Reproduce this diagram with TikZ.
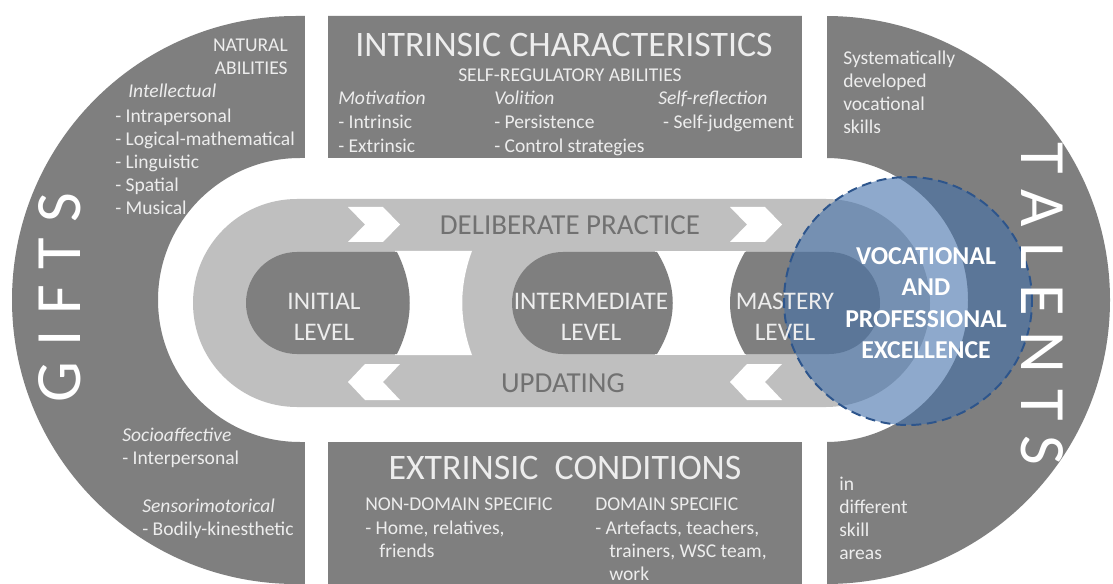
\documentclass[tikz,border=0pt]{standalone}
\usepackage{fontspec}
\setmainfont{Carlito}

\definecolor{panelgray}{HTML}{7F7F7F}
\definecolor{trackgray}{HTML}{BFBFBF}
\definecolor{labelgray}{HTML}{717171}
\definecolor{paneltext}{HTML}{EDEDED}
\definecolor{excelblue}{RGB}{68,113,170}
\definecolor{excelline}{RGB}{45,85,140}

\newcommand{\lettergap}{\hspace{11pt}}

\begin{document}
\begin{tikzpicture}[
    x=0.025cm, y=0.025cm,
    panel/.style={fill=panelgray},
    small/.style={text=paneltext, font=\fontsize{13.9}{16.3}\selectfont, inner sep=0pt, align=left},
    column/.style={small, anchor=north west, font=\fontsize{13.9}{17}\selectfont},
    heading/.style={text=paneltext, font=\fontsize{25.5}{30}\selectfont, inner sep=0pt},
    levellabel/.style={text=paneltext, font=\fontsize{18}{22}\selectfont, align=center, inner sep=0pt},
    tracklabel/.style={text=labelgray, font=\fontsize{20.6}{24}\selectfont, inner sep=0pt},
    giant/.style={text=white, font=\fontsize{46}{50}\selectfont, inner sep=0pt},
    chevron/.style={fill=white}
]
    % frame
    \useasboundingbox (0,0) rectangle (1113,-584);
    \fill[white] (0,0) rectangle (1113,-584);

    % outer ring of panels
    \fill[panel, even odd rule]
        (296,-16) -- (826,-16) arc[start angle=90, end angle=-90, radius=284]
        -- (296,-584) arc[start angle=270, end angle=90, radius=284] -- cycle
        (300,-158) -- (826,-158) arc[start angle=90, end angle=-90, radius=142]
        -- (300,-442) arc[start angle=270, end angle=90, radius=142] -- cycle;
    \fill[white] (305,0) rectangle (328,-584);
    \fill[white] (802,0) rectangle (827,-584);

    % practice track
    \fill[trackgray] (297,-199) -- (826,-199) arc[start angle=90, end angle=-90, radius=104]
        -- (297,-407) arc[start angle=270, end angle=90, radius=104] -- cycle;

    % gaps between levels
    \fill[white] (395,-251) -- (472,-251) .. controls (459,-286) and (459,-320) .. (472,-355) -- (395,-355) -- cycle;
    \fill[white] (655,-251) rectangle (746,-355);

    % levels
    \fill[panel] (397,-252) -- (297,-252) arc[start angle=90, end angle=270, radius=51]
        -- (397,-354) .. controls (414,-320) and (414,-286) .. cycle;
    \fill[panel] (657,-252) -- (563,-252) arc[start angle=90, end angle=270, radius=51]
        -- (657,-354) .. controls (678,-320) and (678,-286) .. cycle;
    \fill[panel] (745,-252) -- (829,-252) arc[start angle=90, end angle=-90, radius=51]
        -- (745,-354) .. controls (725,-320) and (725,-286) .. cycle;

    % chevrons
    \foreach \dx in {0,382} {
        \fill[chevron] (348+\dx,-207) -- (383+\dx,-207) -- (400+\dx,-224.5) -- (383+\dx,-242)
            -- (348+\dx,-242) -- (365+\dx,-224.5) -- cycle;
        \fill[chevron] (400+\dx,-364) -- (365+\dx,-364) -- (348+\dx,-382) -- (365+\dx,-400)
            -- (400+\dx,-400) -- (383+\dx,-382) -- cycle;
    }

    % excellence circle
    \fill[excelblue, fill opacity=0.6] (908,-301) circle[radius=124];
    \draw[excelline, line width=1.4pt, dash pattern=on 7pt off 4pt] (908,-301) circle[radius=124];

    % side titles
    \node[giant, rotate=90] (gifts) at (60,-298) {G\lettergap I\lettergap F\lettergap T\lettergap S};
    \node[giant, rotate=-90] (talents) at (1042,-304) {T\lettergap A\lettergap L\lettergap E\lettergap N\lettergap T\lettergap S};

    % gifts panel
    \node[small, anchor=north east, align=right] (natural) at (288,-39) {NATURAL\\ABILITIES};
    \node[small, anchor=north west] (intellectual) at (128,-84) {\textit{Intellectual}};
    \node[small, anchor=north west] (abilities) at (115,-109) {- Intrapersonal\\- Logical-mathematical\\- Linguistic\\- Spatial\\- Musical};
    \node[small, anchor=north west] (socio) at (122,-428) {\textit{Socioaffective}\\- Interpersonal};
    \node[small, anchor=north west] (senso) at (142,-499) {\textit{Sensorimotorical}\\- Bodily-kinesthetic};

    % intrinsic characteristics
    \node[heading] (intrinsic) at (564,-45) {INTRINSIC CHARACTERISTICS};
    \node[small] (selfreg) at (570,-75) {SELF-REGULATORY ABILITIES};
    \node[column] (motivation) at (338,-91) {\textit{Motivation}\\- Intrinsic\\- Extrinsic};
    \node[column] (volition) at (494,-91) {\textit{Volition}\\- Persistence\\- Control strategies};
    \node[column] (reflection) at (658,-91) {\textit{Self-reflection}\\\hspace*{3.5pt}- Self-judgement};

    % talents panel
    \node[small, anchor=north west] (skills) at (843,-51) {Systematically\\developed\\vocational\\skills};
    \node[small, anchor=north west] (areas) at (839,-477) {in\\different\\skill\\areas};

    % extrinsic conditions
    \node[heading] (extrinsic) at (565,-468) {EXTRINSIC\ \ CONDITIONS};
    \node[column, font=\fontsize{13.9}{16.4}\selectfont] (nondomain) at (365,-498) {NON-DOMAIN SPECIFIC\\- Home, relatives,\\\hspace*{10pt}friends};
    \node[column, font=\fontsize{13.9}{16.4}\selectfont] (domain) at (595,-498) {DOMAIN SPECIFIC\\- Artefacts, teachers,\\\hspace*{10pt}trainers, WSC team,\\\hspace*{10pt}work};

    % track and levels
    \node[tracklabel] (practice) at (570,-225) {DELIBERATE PRACTICE};
    \node[tracklabel] (updating) at (563,-383) {UPDATING};
    \node[levellabel] (initial) at (324,-317) {INITIAL\\LEVEL};
    \node[levellabel] (intermediate) at (591,-317) {INTERMEDIATE\\LEVEL};
    \node[levellabel] (mastery) at (785,-317) {MASTERY\\LEVEL};
    \node[levellabel, text=white, font=\bfseries\fontsize{18.3}{22.4}\selectfont] (excellence) at (926,-303) {VOCATIONAL\\AND\\PROFESSIONAL\\EXCELLENCE};
\end{tikzpicture}
\end{document}
